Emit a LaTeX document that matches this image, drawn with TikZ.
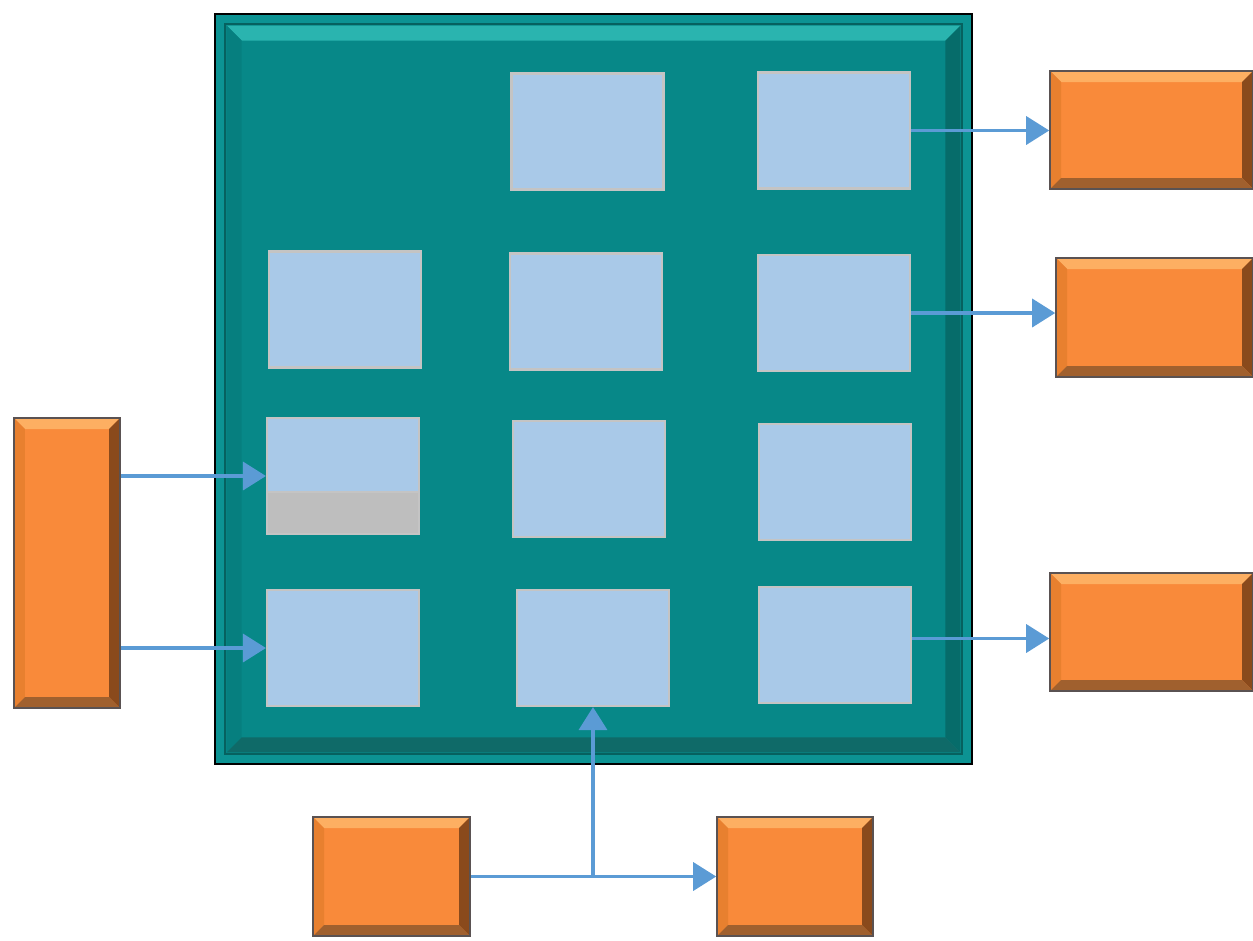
\documentclass[tikz,border=0pt]{standalone}
\usetikzlibrary{arrows.meta,calc}

\definecolor{boxblue}{HTML}{A9C9E8}
\definecolor{boxedge}{HTML}{C4C4C4}
\definecolor{boxgrey}{HTML}{BEBEBE}
\definecolor{linkblue}{HTML}{5B9BD5}
\definecolor{orangeface}{HTML}{F98A3A}
\definecolor{orangetop}{HTML}{FDAF62}
\definecolor{orangeleft}{HTML}{E8802F}
\definecolor{orangeright}{HTML}{8A4A1C}
\definecolor{orangebottom}{HTML}{A0602E}
\definecolor{orangeedge}{HTML}{5A5252}
\definecolor{tealface}{HTML}{078888}
\definecolor{tealouter}{HTML}{0C9393}
\definecolor{tealline}{HTML}{06615F}
\definecolor{tealtop}{HTML}{2AB4AF}
\definecolor{tealleft}{HTML}{067F7F}
\definecolor{tealright}{HTML}{066C6A}
\definecolor{tealbottom}{HTML}{0F6A68}

% bevel: #1 inset, #2 width, #3 top, #4 left, #5 right, #6 bottom
\newcommand\bevel[6]{%
    \coordinate (bvsw) at ([shift={(#1,#1)}]path picture bounding box.south west);
    \coordinate (bvne) at ([shift={(-#1,-#1)}]path picture bounding box.north east);
    \coordinate (bvnw) at (bvsw |- bvne);
    \coordinate (bvse) at (bvne |- bvsw);
    \fill[#3] (bvnw) -- (bvne) -- ([shift={(-#2,-#2)}]bvne) -- ([shift={(#2,-#2)}]bvnw) -- cycle;
    \fill[#4] (bvnw) -- (bvsw) -- ([shift={(#2,#2)}]bvsw) -- ([shift={(#2,-#2)}]bvnw) -- cycle;
    \fill[#5] (bvne) -- (bvse) -- ([shift={(-#2,#2)}]bvse) -- ([shift={(-#2,-#2)}]bvne) -- cycle;
    \fill[#6] (bvsw) -- (bvse) -- ([shift={(-#2,#2)}]bvse) -- ([shift={(#2,#2)}]bvsw) -- cycle;
}

\tikzset{
    bluebox/.style={draw=boxedge, fill=boxblue, line width=1.2pt,
        minimum width=3.04cm, minimum height=2.32cm, inner sep=0pt},
    orangebox/.style 2 args={draw=orangeedge, fill=orangeface, line width=0.9pt,
        minimum width=#1*0.02cm, minimum height=#2*0.02cm, inner sep=0pt,
        path picture={\bevel{0pt}{0.22cm}{orangetop}{orangeleft}{orangeright}{orangebottom}}},
    arrowline/.style={draw=linkblue, line width=2pt,
        -{Triangle[length=0.46cm,width=0.56cm]}}
}

\begin{document}
\begin{tikzpicture}[x=0.02cm, y=-0.02cm]
\useasboundingbox (0,0) rectangle (1253,940);

%% board
\node[draw=black, fill=tealouter, line width=1.5pt, inner sep=0pt,
    minimum width=15.14cm, minimum height=15cm,
    path picture={%
    \fill[tealface] ([shift={(0.2cm,0.2cm)}]path picture bounding box.south west)
        rectangle ([shift={(-0.2cm,-0.2cm)}]path picture bounding box.north east);
    \draw[tealline, line width=1.5pt] ([shift={(0.2cm,0.2cm)}]path picture bounding box.south west)
        rectangle ([shift={(-0.2cm,-0.2cm)}]path picture bounding box.north east);
    \bevel{0.23cm}{0.3cm}{tealtop}{tealleft}{tealright}{tealbottom}}]
    (board) at (593.5,389) {};

% first row
\node[bluebox](b12) at (587.5,131.5){};
\node[bluebox](b13) at (834,130.5){};

% second row
\node[bluebox](b21) at (345,309.5){};
\node[bluebox](b22) at (586,311.5){};
\node[bluebox](b23) at (834,313){};

% third row
\node[bluebox, path picture={%
    \fill[boxgrey] (path picture bounding box.south west)
        rectangle ([yshift=0.84cm]path picture bounding box.south east);
    \draw[boxedge, line width=1.2pt] ([yshift=0.84cm]path picture bounding box.south west)
        -- ([yshift=0.84cm]path picture bounding box.south east);}]
    (b31) at (343,476){};
\node[bluebox](b32) at (589,479){};
\node[bluebox](b33) at (835,482){};

% fourth row
\node[bluebox](b41) at (343,648){};
\node[bluebox](b42) at (593,648){};
\node[bluebox](b43) at (835,645){};

%% outside blocks
\node[orangebox={106}{290}](inL) at (67,563){};
\node[orangebox={203}{118}](out1) at (1151.5,130){};
\node[orangebox={197}{119}](out2) at (1154.5,317.5){};
\node[orangebox={203}{118}](out3) at (1151.5,632){};
\node[orangebox={157}{119}](src) at (391.5,876.5){};
\node[orangebox={156}{119}](dst) at (795,876.5){};

%% connectors
\draw[arrowline] (inL.east |- b31) -- (b31.west);
\draw[arrowline] (inL.east |- b41) -- (b41.west);

\draw[arrowline] (b13.east) -- (b13.east -| out1.west);
\draw[arrowline] (b23.east) -- (b23.east -| out2.west);
\coordinate (m3) at ($(b43.east)!0.5!(out3.west)$);
\draw[arrowline] (b43.east |- m3) -- (out3.west |- m3);

\draw[arrowline] (src.east) -- (dst.west);
\draw[arrowline] (b42.south |- src.east) -- (b42.south);

\end{tikzpicture}
\end{document}
